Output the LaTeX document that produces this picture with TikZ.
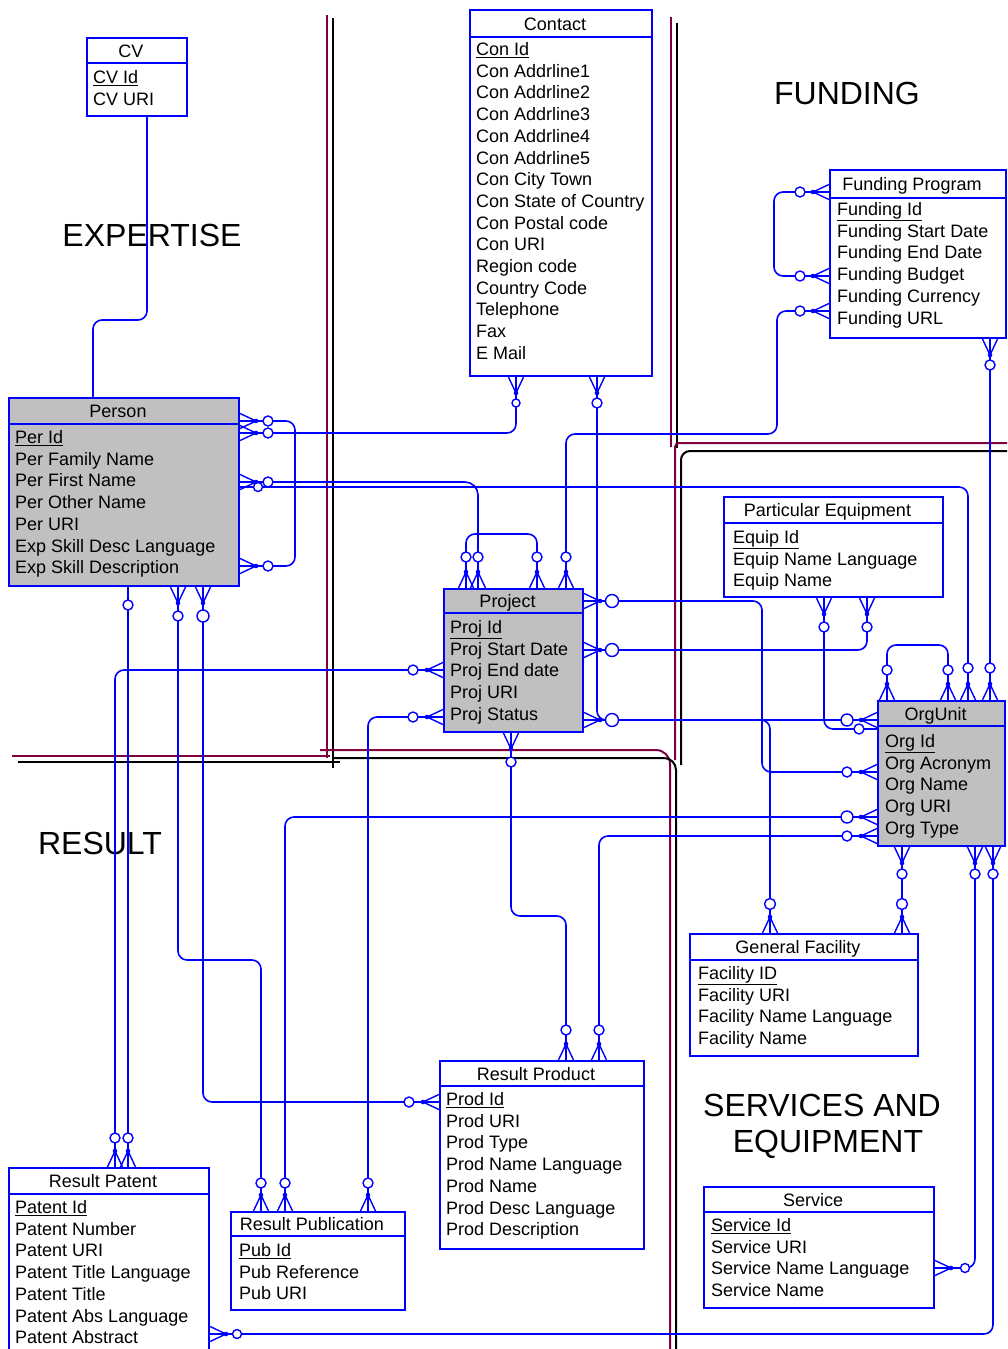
\documentclass[tikz,border=0pt]{standalone}
\usepackage{fontspec}
\setmainfont{Liberation Sans}
\usetikzlibrary{fit}

\definecolor{erblue}{RGB}{0,0,255}
\definecolor{divred}{RGB}{128,0,64}
\definecolor{boxgrey}{RGB}{192,192,192}

\tikzset{
  entbox/.style={draw=erblue, line width=2pt, inner sep=0pt},
  entline/.style={draw=erblue, line width=2pt},
  etext/.style={font=\fontsize{18}{20}\selectfont, inner sep=0pt, text height=13pt, text depth=0pt},
  region/.style={font=\fontsize{32}{36}\selectfont, inner sep=0pt},
  conn/.style={draw=erblue, line width=1.6pt, rounded corners=9pt},
  mk/.style={draw=erblue, line width=1.4pt},
  divr/.style={draw=divred, line width=2pt},
  divk/.style={draw=black, line width=2pt},
}

% entity: name, left, top, right, bottom, header line y, title, fill
\newcommand\entity[8]{%
  \node[entbox, fill=#8, fit={(#2,#3) (#4,#5)}] (#1) {};
  \draw[entline] (#2,#6) -- (#4,#6);
  \node[etext] (#1-title) at ({(#2+#4)/2-6},{(#3+#6)/2}) {#7};
}
% attribute rows: name, text x, first row y, list
\newcommand\attrrows[4]{%
  \foreach \rowtext [count=\i] in {#4} {
    \node[etext, anchor=west] (#1-\i) at (#2,{#3+(\i-1)*21.7}) {\rowtext};
  }
}
% "zero or many" end: port, direction, circle distance, circle radius
\newcommand\manyend[4]{%
  \begin{scope}[shift={(#1)}, rotate=#2]
    \draw[mk] (0,8) -- (17,0) -- (0,-8);
    \draw[mk] (0,0) -- (#3,0);
    \fill[erblue] (17,0) circle (2.3pt);
    \draw[mk, fill=white] (#3,0) circle (#4pt);
  \end{scope}}
% "zero or one" end
\newcommand\oneend[4]{%
  \begin{scope}[shift={(#1)}, rotate=#2]
    \draw[mk] (0,0) -- (#3,0);
    \draw[mk, fill=white] (#3,0) circle (#4pt);
  \end{scope}}

\begin{document}
\begin{tikzpicture}[x=1pt, y=-1pt]
\useasboundingbox (0,0) rectangle (1007,1349);
\clip (0,0) rectangle (1007,1349);
\fill[white] (0,0) rectangle (1007,1349);

% subject area dividers
\draw[divr] (327,15) -- (327,758);
\draw[divk] (333,18) -- (333,768);
\draw[divr] (12,756) -- (330,756);
\draw[divk] (18,762) -- (340,762);
\draw[divr, rounded corners=14pt] (320,750) -- (670,750) -- (670,1349);
\draw[divk, rounded corners=12pt] (333,758) -- (676,758) -- (676,1349);
\draw[divr] (671,17) -- (671,447);
\draw[divk] (677,23) -- (677,448);
\draw[divr, rounded corners=4pt] (1007,443) -- (675,443) -- (675,760);
\draw[divk, rounded corners=9pt] (1007,451) -- (681,451) -- (681,765);

% subject area titles
\node[region] (lbl-exp) at (152,235) {EXPERTISE};
\node[region] (lbl-fund) at (847,93) {FUNDING};
\node[region] (lbl-res) at (100,843) {RESULT};
\node[region] (lbl-svc1) at (822,1105) {SERVICES AND};
\node[region] (lbl-svc2) at (828,1144) {EQUIPMENT};

% entities
\entity{cv}{87}{38}{187}{116}{63}{CV}{white}
\attrrows{cv}{93}{77}{\underline{CV Id}, CV URI}

\entity{con}{470}{10}{652}{376}{37}{Contact}{white}
\attrrows{con}{476}{49}{\underline{Con Id}, Con Addrline1, Con Addrline2, Con Addrline3, Con Addrline4, Con Addrline5, Con City Town, Con State of Country, Con Postal code, Con URI, Region code, Country Code, Telephone, Fax, E Mail}

\entity{pers}{9}{398}{239}{586}{424}{Person}{boxgrey}
\attrrows{pers}{15}{437}{\underline{Per Id}, Per Family Name, Per First Name, Per Other Name, Per URI, Exp Skill Desc Language, Exp Skill Description}

\entity{proj}{444}{589}{583}{732}{613}{Project}{boxgrey}
\attrrows{proj}{450}{627}{\underline{Proj Id}, Proj Start Date, Proj End date, Proj URI, Proj Status}

\entity{fp}{830}{170}{1006}{338}{198}{Funding Program}{white}
\attrrows{fp}{837}{209}{\underline{Funding Id}, Funding Start Date, Funding End Date, Funding Budget, Funding Currency, Funding URL}

\entity{pe}{724}{497}{943}{597}{523}{Particular Equipment}{white}
\attrrows{pe}{733}{537}{\underline{Equip Id}, Equip Name Language, Equip Name}

\entity{ou}{878}{701}{1005}{846}{726}{OrgUnit}{boxgrey}
\attrrows{ou}{885}{741}{\underline{Org Id}, Org Acronym, Org Name, Org URI, Org Type}

\entity{gf}{690}{934}{918}{1056}{960}{General Facility}{white}
\attrrows{gf}{698}{973}{\underline{Facility ID}, Facility URI, Facility Name Language, Facility Name}

\entity{prod}{440}{1061}{644}{1249}{1086}{Result Product}{white}
\attrrows{prod}{446}{1099}{\underline{Prod Id}, Prod URI, Prod Type, Prod Name Language, Prod Name, Prod Desc Language, Prod Description}

\entity{svc}{704}{1187}{934}{1308}{1212}{Service}{white}
\attrrows{svc}{711}{1225}{\underline{Service Id}, Service URI, Service Name Language, Service Name}

\entity{pat}{9}{1168}{209}{1365}{1194}{Result Patent}{white}
\attrrows{pat}{15}{1207}{\underline{Patent Id}, Patent Number, Patent URI, Patent Title Language, Patent Title, Patent Abs Language, Patent Abstract}

\entity{pub}{231}{1212}{405}{1310}{1236}{Result Publication}{white}
\attrrows{pub}{239}{1250}{\underline{Pub Id}, Pub Reference, Pub URI}

% relationship ports
\coordinate (cv-b) at (147,116);
\coordinate (pers-t) at (93,398);
\coordinate (pers-r1) at (239,421);
\coordinate (pers-r2) at (239,433);
\coordinate (pers-r3) at (239,482);
\coordinate (pers-r4) at (239,487);
\coordinate (pers-r5) at (239,566);
\coordinate (pers-b1) at (128,586);
\coordinate (pers-b2) at (178,586);
\coordinate (pers-b3) at (203,586);
\coordinate (con-b1) at (516,376);
\coordinate (con-b2) at (597,376);
\coordinate (proj-t1) at (466,589);
\coordinate (proj-t2) at (478,589);
\coordinate (proj-t3) at (537,589);
\coordinate (proj-t4) at (566,589);
\coordinate (proj-l1) at (444,670);
\coordinate (proj-l2) at (444,717);
\coordinate (proj-r1) at (583,601);
\coordinate (proj-r2) at (583,650);
\coordinate (proj-r3) at (583,720);
\coordinate (proj-b) at (511,732);
\coordinate (fp-l1) at (830,192);
\coordinate (fp-l2) at (830,276);
\coordinate (fp-l3) at (830,311);
\coordinate (fp-b) at (990,338);
\coordinate (pe-b1) at (824,597);
\coordinate (pe-b2) at (867,597);
\coordinate (ou-t1) at (887,701);
\coordinate (ou-t2) at (948,701);
\coordinate (ou-t3) at (968,701);
\coordinate (ou-t4) at (990,701);
\coordinate (ou-l1) at (878,720);
\coordinate (ou-l2) at (878,729);
\coordinate (ou-l3) at (878,772);
\coordinate (ou-l4) at (878,817);
\coordinate (ou-l5) at (878,836);
\coordinate (ou-b1) at (902,846);
\coordinate (ou-b2) at (975,846);
\coordinate (ou-b3) at (993,846);
\coordinate (gf-t1) at (770,934);
\coordinate (gf-t2) at (902,934);
\coordinate (prod-t1) at (566,1061);
\coordinate (prod-t2) at (599,1061);
\coordinate (prod-l1) at (440,1102);
\coordinate (svc-r) at (934,1268);
\coordinate (pat-t1) at (115,1168);
\coordinate (pat-t2) at (128,1168);
\coordinate (pat-r) at (209,1334);
\coordinate (pub-t1) at (261,1212);
\coordinate (pub-t2) at (285,1212);
\coordinate (pub-t3) at (368,1212);

% relationships
\draw[conn] (cv-b) -- ++(0,204) -| (pers-t);
\draw[conn] (pers-r1) -- ++(56,0) |- (pers-r5);
\draw[conn] (pers-r2) -| (con-b1);
\draw[conn, rounded corners=13pt] (pers-r3) -| (proj-t2);
\draw[conn] (pers-r4) -| (ou-t3);
\draw[conn] (pers-b1) -- (pat-t2);
\draw[conn] (pers-b2) -- ++(0,374) -| (pub-t1);
\draw[conn] (pers-b3) |- (prod-l1);
\draw[conn] (proj-l1) -| (pat-t1);
\draw[conn] (proj-l2) -| (pub-t3);
\draw[conn] (proj-t1) -- ++(0,-55) -| (proj-t3);
\draw[conn] (fp-l3) -- ++(-53,0) -- ++(0,123) -| (proj-t4);
\draw[conn] (fp-l1) -- ++(-56,0) |- (fp-l2);
\draw[conn] (fp-b) -- (ou-t4);
\draw[conn] (con-b2) |- (ou-l1);
\draw[conn] (proj-r3) -| (gf-t1);
\draw[conn] (proj-r1) -- ++(179,0) |- (ou-l3);
\draw[conn] (proj-r2) -| (pe-b2);
\draw[conn] (pe-b1) |- (ou-l2);
\draw[conn] (ou-t1) -- ++(0,-56) -| (ou-t2);
\draw[conn] (ou-b1) -- (gf-t2);
\draw[conn] (ou-b2) |- (svc-r);
\draw[conn] (ou-b3) |- (pat-r);
\draw[conn] (proj-b) -- ++(0,184) -| (prod-t1);
\draw[conn] (prod-t2) |- (ou-l5);
\draw[conn] (pub-t2) |- (ou-l4);

% cardinality ends
\manyend{pers-r1}{0}{29}{5}
\manyend{pers-r2}{0}{29}{5}
\manyend{pers-r3}{0}{29}{5}
\oneend{pers-r4}{0}{19}{4.5}
\manyend{pers-r5}{0}{29}{5}
\oneend{pers-b1}{-90}{19}{5}
\manyend{pers-b2}{-90}{30}{5}
\manyend{pers-b3}{-90}{30}{6}
\manyend{con-b1}{-90}{27}{4}
\manyend{con-b2}{-90}{27}{5}
\manyend{proj-t1}{90}{32}{5}
\manyend{proj-t2}{90}{32}{5}
\manyend{proj-t3}{90}{32}{5}
\manyend{proj-t4}{90}{32}{5}
\manyend{proj-l1}{180}{31}{5}
\manyend{proj-l2}{180}{31}{5}
\manyend{proj-r1}{0}{29}{6.5}
\manyend{proj-r2}{0}{29}{6.5}
\manyend{proj-r3}{0}{29}{6.5}
\manyend{proj-b}{-90}{30}{5}
\manyend{fp-l1}{180}{30}{5}
\manyend{fp-l2}{180}{30}{5}
\manyend{fp-l3}{180}{30}{5}
\manyend{fp-b}{-90}{27}{5}
\manyend{pe-b1}{-90}{30}{5}
\manyend{pe-b2}{-90}{30}{5}
\manyend{ou-t1}{90}{31}{5}
\manyend{ou-t2}{90}{31}{5}
\manyend{ou-t3}{90}{33}{5}
\manyend{ou-t4}{90}{33}{5}
\manyend{ou-l1}{180}{31}{6}
\oneend{ou-l2}{180}{19}{5}
\manyend{ou-l3}{180}{31}{5}
\manyend{ou-l4}{180}{31}{6}
\manyend{ou-l5}{180}{31}{5}
\manyend{ou-b1}{-90}{28}{5}
\manyend{ou-b2}{-90}{28}{5}
\manyend{ou-b3}{-90}{28}{5}
\manyend{gf-t1}{90}{30}{5.5}
\manyend{gf-t2}{90}{30}{5.5}
\manyend{prod-t1}{90}{31}{5}
\manyend{prod-t2}{90}{31}{5}
\manyend{prod-l1}{180}{31}{5}
\manyend{svc-r}{0}{31}{4.5}
\manyend{pat-t1}{90}{30}{5}
\manyend{pat-t2}{90}{30}{5}
\manyend{pat-r}{0}{28}{4.5}
\manyend{pub-t1}{90}{29}{5}
\manyend{pub-t2}{90}{29}{5}
\manyend{pub-t3}{90}{29}{5}
\end{tikzpicture}
\end{document}
